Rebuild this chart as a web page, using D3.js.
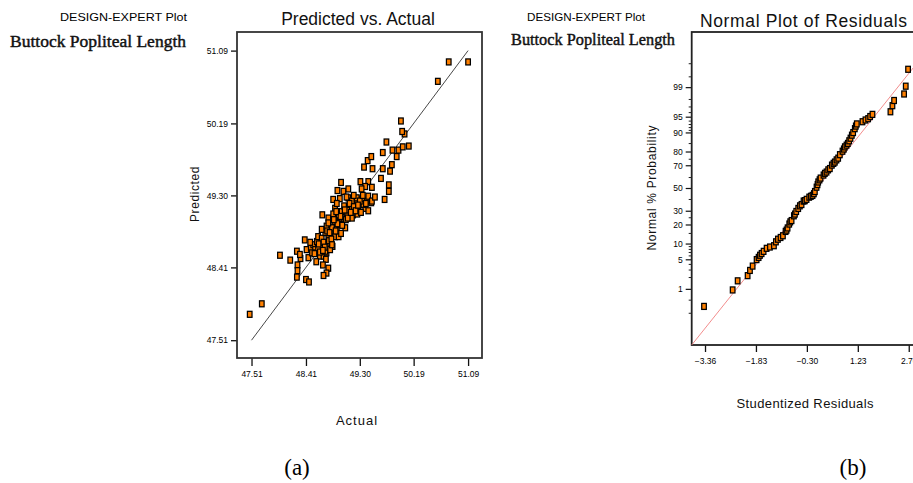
<!DOCTYPE html>
<html><head><meta charset="utf-8">
<script src="https://cdnjs.cloudflare.com/ajax/libs/d3/7.8.5/d3.min.js"></script>
<style>html,body{margin:0;padding:0;background:#fff;}svg{display:block;}</style>
</head><body>
<svg id="c" width="913" height="483"></svg>
<script>
// ---------- DATA ----------
const predTicks = [47.51, 48.41, 49.30, 50.19, 51.09];
const actualValues = [47.48,47.68,47.98,48.15,48.26,48.32,48.27,48.27,48.26,48.39,48.42,48.45,48.41,48.46,48.49,48.53,48.56,48.59,48.61,48.67,48.66,48.64,48.70,48.75,48.74,48.73,48.78,48.75,48.70,48.81,48.85,48.78,48.73,48.67,48.75,48.84,48.86,48.89,48.95,48.92,48.88,48.68,48.78,48.89,48.86,48.95,48.97,49.00,49.03,49.06,49.09,49.11,49.14,49.11,49.17,49.19,49.22,49.25,49.28,49.31,49.34,49.39,49.42,49.44,49.49,49.71,49.17,48.99,49.31,49.44,49.39,49.50,49.33,49.78,49.78,48.93,49.03,49.25,49.44,49.50,49.65,49.80,49.83,49.68,49.51,49.37,49.43,49.49,49.68,49.74,49.84,49.91,49.94,50.01,50.11,50.04,50.00,49.98,50.59,50.77,51.09,48.61,48.79,48.96,49.04,49.17,49.26,49.36,48.86,48.76,48.51,48.97,49.07,48.31,48.81,48.58,48.69,48.92,49.20,49.32,49.55,48.48,49.11,
  48.62,48.70,48.72,48.80,48.83,48.90,48.93,48.98,49.01,49.05,49.10,49.13,49.20,49.23,49.30,49.35,49.40,48.87,48.78,48.64,48.69,48.55,48.91,49.08,49.15,49.27,48.84,48.99];
const predictedValues = [47.83,47.96,48.56,48.50,48.61,48.52,48.44,48.37,48.29,48.75,48.63,48.53,48.26,48.23,48.65,48.69,48.63,48.73,48.79,48.77,48.69,48.55,48.55,48.59,48.51,48.61,48.40,48.34,48.31,48.71,48.67,48.79,48.84,48.88,48.92,48.90,48.81,48.79,48.79,48.90,48.98,49.06,49.02,49.14,49.25,49.06,48.98,49.10,49.02,48.90,49.06,49.12,49.19,49.27,49.23,49.06,49.14,49.23,49.10,49.19,49.25,49.14,49.23,49.11,49.21,49.25,49.02,49.46,49.47,49.47,49.41,49.40,49.38,49.43,49.35,49.36,49.35,49.27,49.29,49.23,49.51,49.60,49.68,49.63,49.63,49.65,49.73,49.78,49.83,49.96,49.86,49.78,49.86,49.90,49.91,50.06,50.09,50.22,50.71,50.95,50.95,48.65,48.74,48.94,49.17,49.14,49.07,49.19,49.07,48.86,48.59,49.26,49.00,48.57,48.63,48.48,48.44,49.20,49.30,49.09,49.28,48.72,49.38,
  48.70,48.72,48.66,48.84,48.76,48.86,48.95,49.04,48.93,49.12,49.02,49.20,49.16,49.11,49.23,49.30,49.20,49.00,48.96,48.60,48.62,48.58,49.10,49.28,49.09,49.18,48.69,48.83];
const fitLine = [47.51, 51.09];

const residTicks = [-3.36, -1.83, -0.30, 1.23, 2.76];
const probTicks = [1, 5, 10, 20, 30, 50, 70, 80, 90, 95, 99];
const probMinorTicks = [0.2, 0.5, 2, 3, 4, 6, 7, 8, 9, 15, 25, 40, 60, 75, 85, 91, 92, 93, 94, 96, 97, 98, 99.5, 99.8];
const residuals = [-3.39,-2.53,-2.38,-2.08,-2.01,-1.93,-1.81,-1.75,-1.71,-1.66,-1.60,-1.51,-1.41,-1.29,-1.23,-1.17,-1.09,-1.02,-0.94,-0.91,-0.88,-0.83,-0.80,-0.76,-0.69,-0.66,-0.62,-0.56,-0.51,-0.46,-0.40,-0.36,-0.31,-0.23,-0.18,-0.13,-0.09,-0.06,-0.01,0.02,0.04,0.08,0.11,0.20,0.24,0.29,0.34,0.39,0.45,0.50,0.54,0.59,0.64,0.69,0.77,0.81,0.84,0.89,0.93,0.97,1.01,1.05,1.09,1.14,1.17,1.20,1.37,1.46,1.54,1.60,1.67,2.21,2.27,2.32,2.62,2.67,2.74];
const normalScores = [-2.72,-2.34,-2.13,-2.01,-1.89,-1.79,-1.64,-1.59,-1.54,-1.50,-1.45,-1.38,-1.35,-1.32,-1.23,-1.17,-1.13,-1.09,-0.99,-0.96,-0.91,-0.82,-0.77,-0.74,-0.63,-0.59,-0.53,-0.46,-0.40,-0.37,-0.29,-0.28,-0.25,-0.20,-0.18,-0.16,-0.12,-0.07,0.03,0.09,0.15,0.20,0.24,0.31,0.35,0.38,0.43,0.46,0.54,0.58,0.61,0.66,0.70,0.78,0.86,0.91,0.96,1.00,1.04,1.10,1.16,1.23,1.29,1.38,1.44,1.49,1.54,1.58,1.61,1.66,1.71,1.77,1.91,2.03,2.18,2.36,2.75];
const refLineR = [-3.76, 3.6];
const refLineZ = [-3.61, 3.46];

// ---------- HELPERS ----------
function probit(p){ // inverse normal CDF (Acklam)
  const a=[-39.69683028665376,220.9460984245205,-275.9285104469687,138.3577518672690,-30.66479806614716,2.506628277459239];
  const b=[-54.47609879822406,161.5858368580409,-155.6989798598866,66.80131188771972,-13.28068155288572];
  const c=[-0.007784894002430293,-0.3223964580411365,-2.400758277161838,-2.549732539343734,4.374664141464968,2.938163982698783];
  const d=[0.007784695709041462,0.3224671290700398,2.445134137142996,3.754408661907416];
  const pl=0.02425;
  if(p<pl){const q=Math.sqrt(-2*Math.log(p));return (((((c[0]*q+c[1])*q+c[2])*q+c[3])*q+c[4])*q+c[5])/((((d[0]*q+d[1])*q+d[2])*q+d[3])*q+1);}
  if(p>1-pl){const q=Math.sqrt(-2*Math.log(1-p));return -(((((c[0]*q+c[1])*q+c[2])*q+c[3])*q+c[4])*q+c[5])/((((d[0]*q+d[1])*q+d[2])*q+d[3])*q+1);}
  const q=p-0.5,r=q*q;
  return (((((a[0]*r+a[1])*r+a[2])*r+a[3])*r+a[4])*r+a[5])*q/(((((b[0]*r+b[1])*r+b[2])*r+b[3])*r+b[4])*r+1);
}

const svg = d3.select("#c");
const SANS = "'Liberation Sans', Arial, sans-serif";
const SERIF = "'Liberation Serif', 'Times New Roman', serif";
const orange = "#ff8000";
const INK = "#111";

// ---------- PANEL A ----------
const A = {l:237, t:32, w:245, h:326};
const xA = d3.scaleLinear().domain([47.27, 51.32]).range([A.l, A.l + A.w]);
const yA = d3.scaleLinear().domain([47.29, 51.32]).range([A.t + A.h, A.t]);

svg.append("text").attr("x",60).attr("y",21).attr("font-family",SANS).attr("font-size",11)
  .attr("textLength",127).attr("lengthAdjust","spacingAndGlyphs").attr("fill","#000").text("DESIGN-EXPERT Plot");
svg.append("text").attr("x",10).attr("y",47).attr("font-family",SERIF).attr("font-size",17.5)
  .attr("stroke","#111").attr("stroke-width",0.45)
  .attr("textLength",176).attr("lengthAdjust","spacingAndGlyphs").attr("fill","#111").text("Buttock Popliteal Length");
svg.append("text").attr("x",358).attr("y",25).attr("text-anchor","middle").attr("font-family",SANS).attr("font-size",17.5)
  .attr("fill",INK).text("Predicted vs. Actual");

const gAx = svg.append("g").attr("transform",`translate(0,${A.t + A.h})`)
  .call(d3.axisBottom(xA).tickValues(predTicks).tickFormat(d3.format(".2f")).tickSize(8).tickPadding(5));
const gAy = svg.append("g").attr("transform",`translate(${A.l},0)`)
  .call(d3.axisLeft(yA).tickValues(predTicks).tickFormat(d3.format(".2f")).tickSize(6).tickPadding(3));
[gAx,gAy].forEach(g=>{
  g.select(".domain").remove();
  g.selectAll(".tick line").attr("stroke","#111").attr("stroke-width",1.3);
  g.selectAll(".tick text").attr("font-family",SANS).attr("font-size",8.5).attr("fill","#000");
});
svg.append("rect").attr("x",A.l).attr("y",A.t).attr("width",A.w).attr("height",A.h)
  .attr("fill","none").attr("stroke","#333").attr("stroke-width",1.8);

svg.append("line").attr("x1",xA(fitLine[0])).attr("y1",yA(fitLine[0]))
  .attr("x2",xA(fitLine[1])).attr("y2",yA(fitLine[1])).attr("stroke","#333").attr("stroke-width",0.9);

svg.append("g").selectAll("rect").data(actualValues.map((a,i)=>[a,predictedValues[i]])).join("rect")
  .attr("x",d=>xA(d[0])-2.3).attr("y",d=>yA(d[1])-3).attr("width",4.6).attr("height",6)
  .attr("fill",orange).attr("stroke","#000").attr("stroke-width",1.25);

svg.append("text").attr("transform","translate(199,194) rotate(-90)").attr("text-anchor","middle")
  .attr("font-family",SANS).attr("font-size",12).attr("letter-spacing",0.6).attr("fill",INK).text("Predicted");
svg.append("text").attr("x",357).attr("y",425).attr("text-anchor","middle")
  .attr("font-family",SANS).attr("font-size",13).attr("letter-spacing",1).attr("fill",INK).text("Actual");
svg.append("text").attr("x",297).attr("y",475).attr("text-anchor","middle")
  .attr("font-family",SERIF).attr("font-size",23).attr("fill","#000").text("(a)");

// ---------- PANEL B ----------
const B = {l:691.7, t:32, w:245, h:313};
const xB = d3.scaleLinear().domain([-3.76, 3.6]).range([B.l, B.l + B.w]);
const yB = d3.scaleLinear().domain([-3.61, 3.61]).range([B.t + B.h, B.t]);

svg.append("text").attr("x",527).attr("y",21).attr("font-family",SANS).attr("font-size",11)
  .attr("textLength",118).attr("lengthAdjust","spacingAndGlyphs").attr("fill","#000").text("DESIGN-EXPERT Plot");
svg.append("text").attr("x",511).attr("y",45).attr("font-family",SERIF).attr("font-size",17.5)
  .attr("stroke","#111").attr("stroke-width",0.45)
  .attr("textLength",164).attr("lengthAdjust","spacingAndGlyphs").attr("fill","#111").text("Buttock Popliteal Length");
svg.append("text").attr("x",700).attr("y",26.5).attr("font-family",SANS).attr("font-size",17.5)
  .attr("textLength",207).attr("lengthAdjust","spacing").attr("fill",INK).text("Normal Plot of Residuals");

const gBx = svg.append("g").attr("transform",`translate(0,${B.t + B.h})`)
  .call(d3.axisBottom(xB).tickValues(residTicks).tickFormat(d3.format(".2f")).tickSize(7).tickPadding(6));
gBx.select(".domain").remove();
gBx.selectAll(".tick line").attr("stroke","#111").attr("stroke-width",1.3);
gBx.selectAll(".tick text").attr("font-family",SANS).attr("font-size",8.5).attr("fill","#000");

const yTickG = svg.append("g").attr("transform",`translate(${B.l},0)`);
yTickG.selectAll("line.minor").data(probMinorTicks).join("line").attr("class","minor")
  .attr("x1",-3).attr("x2",0).attr("y1",d=>yB(probit(d/100))).attr("y2",d=>yB(probit(d/100)))
  .attr("stroke","#222").attr("stroke-width",1);
yTickG.selectAll("line.major").data(probTicks).join("line").attr("class","major")
  .attr("x1",-6).attr("x2",0).attr("y1",d=>yB(probit(d/100))).attr("y2",d=>yB(probit(d/100)))
  .attr("stroke","#111").attr("stroke-width",1.2);
yTickG.selectAll("text").data(probTicks).join("text")
  .attr("x",-9).attr("y",d=>yB(probit(d/100))).attr("dy","0.33em").attr("text-anchor","end")
  .attr("font-family",SANS).attr("font-size",8.5).attr("fill","#000").text(d=>d);

svg.append("rect").attr("x",B.l).attr("y",B.t).attr("width",B.w).attr("height",B.h)
  .attr("fill","none").attr("stroke","#222").attr("stroke-width",1.8);

svg.append("line").attr("x1",xB(refLineR[0])).attr("y1",yB(refLineZ[0]))
  .attr("x2",xB(refLineR[1])).attr("y2",yB(refLineZ[1])).attr("stroke","#f08080").attr("stroke-width",0.9);

svg.append("g").selectAll("rect").data(residuals.map((r,i)=>[r,normalScores[i]])).join("rect")
  .attr("x",d=>xB(d[0])-2.3).attr("y",d=>yB(d[1])-3).attr("width",4.6).attr("height",6)
  .attr("fill",orange).attr("stroke","#000").attr("stroke-width",1.25);

svg.append("text").attr("transform","translate(656,188) rotate(-90)").attr("text-anchor","middle")
  .attr("font-family",SANS).attr("font-size",12).attr("textLength",125).attr("lengthAdjust","spacing")
  .attr("fill",INK).text("Normal % Probability");
svg.append("text").attr("x",805).attr("y",408).attr("text-anchor","middle")
  .attr("font-family",SANS).attr("font-size",13).attr("textLength",137).attr("lengthAdjust","spacing")
  .attr("fill",INK).text("Studentized Residuals");
svg.append("text").attr("x",853).attr("y",475).attr("text-anchor","middle")
  .attr("font-family",SERIF).attr("font-size",23).attr("fill","#000").text("(b)");
</script>
</body></html>
